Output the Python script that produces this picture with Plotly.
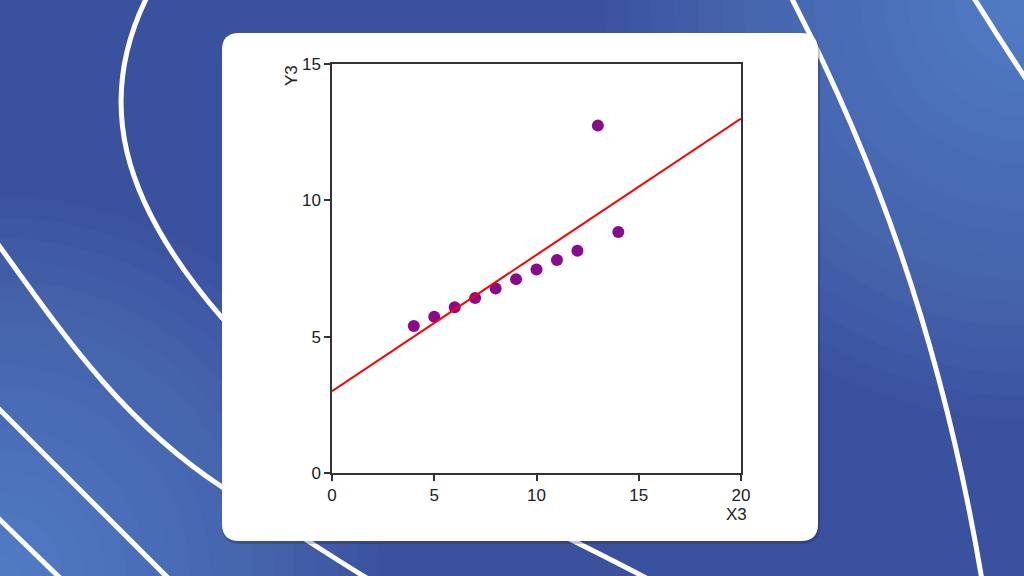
import plotly.graph_objects as go

# Anscombe's quartet, dataset III
x3 = [10, 8, 13, 9, 11, 14, 6, 4, 12, 7, 5]
y3 = [7.46, 6.77, 12.74, 7.11, 7.81, 8.84, 6.08, 5.39, 8.15, 6.42, 5.73]
fit_x = [0, 20]
fit_intercept = 3.0
fit_slope = 0.5
fit_y = [fit_intercept + fit_slope * v for v in fit_x]
x_ticks = [0, 5, 10, 15, 20]
y_ticks = [0, 5, 10, 15]

W, H = 1024, 576
L, R, T, B = 332, 741, 64, 473
S = R - L  # plot size in px (square)


def px(xp, yp):
    return f"{(xp - L) / S:.4f},{(B - yp) / S:.4f}"


def path(cmds):
    out = []
    for c in cmds:
        op = c[0]
        pts = c[1:]
        out.append(op + " ".join(px(*p) for p in pts))
    return " ".join(out)


def rounded_rect(x0, y0, x1, y1, r):
    return path([
        ("M", (x0 + r, y0)), ("L", (x1 - r, y0)), ("Q", (x1, y0), (x1, y0 + r)),
        ("L", (x1, y1 - r)), ("Q", (x1, y1), (x1 - r, y1)),
        ("L", (x0 + r, y1)), ("Q", (x0, y1), (x0, y1 - r)),
        ("L", (x0, y0 + r)), ("Q", (x0, y0), (x0 + r, y0)),
    ]) + " Z"


shapes = []
# soft corner glows (stacked faint circles)
for cx, cy, col, rmax in [(0, 576, "#78bdf0", 380), (1024, 0, "#78bdf0", 420)]:
    n = 18
    for i in range(n):
        r = rmax * (1 - i / n)
        shapes.append(dict(type="circle", xref="paper", yref="paper",
                           x0=(cx - r - L) / S, x1=(cx + r - L) / S,
                           y0=(B - (cy + r)) / S, y1=(B - (cy - r)) / S,
                           fillcolor=col, opacity=0.03, line=dict(width=0),
                           layer="below"))

curves = [
    [("M", (148, -5)), ("C", (95, 100), (120, 200), (222, 318)),
     ("C", (380, 460), (500, 500), (650, 580))],
    [("M", (-5, 240)), ("C", (60, 330), (120, 420), (222, 487)),
     ("C", (270, 515), (320, 550), (370, 580))],
    [("M", (-5, 405)), ("Q", (80, 490), (170, 580))],
    [("M", (-5, 515)), ("L", (62, 580))],
    [("M", (790, -5)), ("C", (870, 150), (940, 330), (982, 580))],
    [("M", (972, -5)), ("Q", (1000, 40), (1030, 85))],
]
for c in curves:
    shapes.append(dict(type="path", xref="paper", yref="paper", path=path(c),
                       line=dict(color="white", width=5), layer="below"))

# card shadow + card
shapes.append(dict(type="path", xref="paper", yref="paper",
                   path=rounded_rect(222, 35, 820, 544, 18),
                   fillcolor="rgba(20,30,70,0.25)", line=dict(width=0), layer="below"))
shapes.append(dict(type="path", xref="paper", yref="paper",
                   path=rounded_rect(222, 33, 818, 541, 17),
                   fillcolor="white", line=dict(width=0), layer="below"))

fig = go.Figure()
fig.add_trace(go.Scatter(x=x3, y=y3, mode="markers",
                         marker=dict(color="#8a0a8e", size=12, line=dict(width=0)),
                         showlegend=False, hoverinfo="x+y"))
fig.add_trace(go.Scatter(x=fit_x, y=fit_y, mode="lines",
                         line=dict(color="#ff0000", width=2),
                         showlegend=False, hoverinfo="skip"))

FONT = dict(family="Liberation Sans, Arial", size=17, color="#222222")
axis_common = dict(showgrid=False, zeroline=False, showline=True, mirror=True,
                   linecolor="#333333", linewidth=1.5, ticks="outside",
                   ticklen=6, tickwidth=1.5, tickcolor="#333333",
                   tickfont=FONT)

fig.update_layout(
    width=W, height=H,
    margin=dict(l=L, r=W - R, t=T, b=H - B, pad=0),
    paper_bgcolor="#3a519d",
    plot_bgcolor="rgba(0,0,0,0)",
    xaxis=dict(range=[0, 20], tickvals=x_ticks, **axis_common),
    yaxis=dict(range=[0, 15], tickvals=y_ticks, **axis_common),
    shapes=shapes,
    annotations=[
        dict(text="Y3", xref="paper", yref="paper", x=(291 - L) / S, y=(B - 76) / S,
             showarrow=False, textangle=-90, xanchor="center", yanchor="middle",
             font=FONT),
        dict(text="X3", xref="paper", yref="paper", x=(736 - L) / S, y=(B - 514) / S,
             showarrow=False, xanchor="center", yanchor="middle",
             font=FONT),
    ],
)

fig.write_html("out.html", config={"displayModeBar": False},
               post_script="document.body.style.margin='0';document.body.style.overflow='hidden';")
